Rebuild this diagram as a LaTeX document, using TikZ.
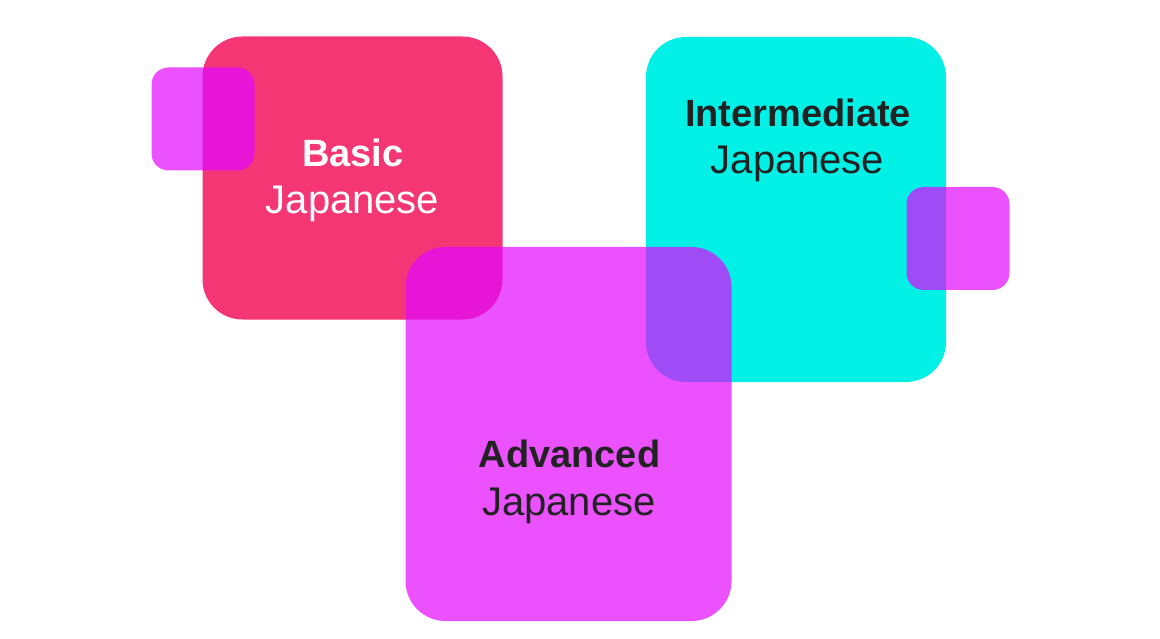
\documentclass[tikz,border=0pt]{standalone}
\usepackage{fontspec}
\setmainfont{Liberation Sans}
\usepackage{tikz}
\usetikzlibrary{backgrounds}
\usepackage{xcolor}
\definecolor{basicred}{HTML}{F53675}
\definecolor{interteal}{HTML}{02F1E6}
\definecolor{advmagenta}{HTML}{E207FF}
\definecolor{inkdark}{HTML}{222222}

\begin{document}
\begin{tikzpicture}[x=1pt,y=-1pt,
		%Options for the tiles%
		tile/.style={inner sep=0pt,outer sep=0pt,draw=none,rounded corners=40pt},%
		small tile/.style={tile,rounded corners=17pt,
			minimum width=103pt,minimum height=103pt},%
		overlay tile/.style={fill=advmagenta,fill opacity=0.7},%
		title/.style={anchor=base,font=\fontsize{38}{47}\selectfont\bfseries},%
		subtitle/.style={anchor=base,font=\fontsize{40}{47}\selectfont}%
		]
		%% frame of the picture
		\useasboundingbox (0,0) rectangle (1160,639);
		%
		%% solid tiles
		\node[tile,fill=basicred,minimum width=300pt,minimum height=283pt] (basic) at (352.5,178) {};
		\node[tile,fill=interteal,minimum width=300pt,minimum height=345pt] (inter) at (796,209.5) {};
		%
		%% see-through tiles on top
		\node[tile,overlay tile,minimum width=326pt,minimum height=374pt] (adv) at (568.5,434) {};
		\node[small tile,overlay tile] (cornerL) at (203,119) {};
		\node[small tile,overlay tile] (cornerR) at (958,238.5) {};
		%
		%% labels
		\node[title,text=white] (basic-t) at (353,167) {Basic};
		\node[subtitle,text=white] (basic-s) at (352.5,214) {Japanese};
		\node[title,text=inkdark] (inter-t) at (798,127) {Intermediate};
		\node[subtitle,text=inkdark] (inter-s) at (797.5,174) {Japanese};
		\node[title,text=inkdark] (adv-t) at (569.5,467) {Advanced};
		\node[subtitle,text=inkdark] (adv-s) at (569,515) {Japanese};
	\end{tikzpicture}
\end{document}
